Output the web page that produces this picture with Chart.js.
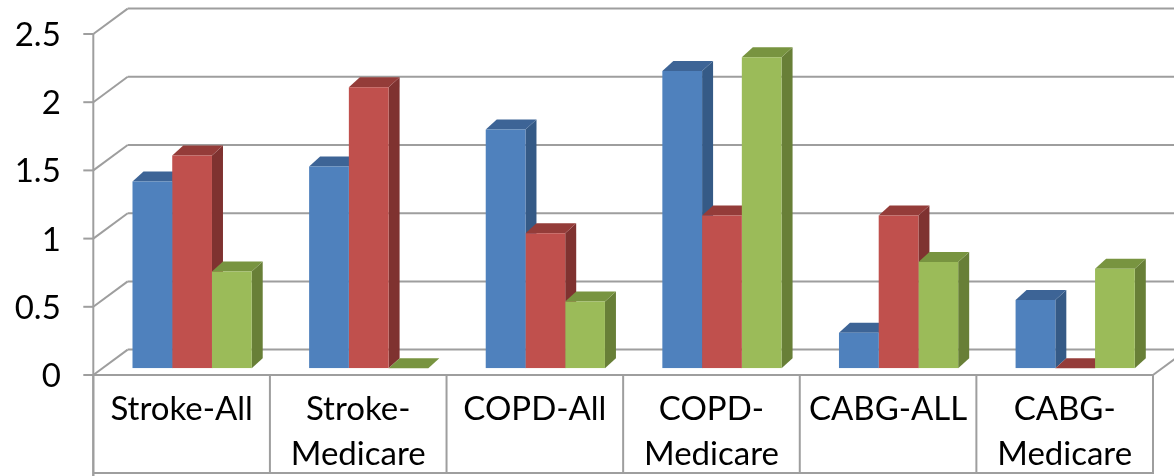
<!DOCTYPE html>
<html>
<head>
<meta charset="utf-8">
<script src="https://cdn.jsdelivr.net/npm/chart.js@4/dist/chart.umd.min.js"></script>
<style>
  html, body { margin: 0; padding: 0; background: #fff; }
  #wrap { width: 1174px; height: 476px; }
</style>
</head>
<body>
<div id="wrap"><canvas id="c" width="1174" height="476"></canvas></div>
<script>
// Categories (multi-line labels) and the three series
const categories = [
  ['Stroke-All'],
  ['Stroke-', 'Medicare'],
  ['COPD-All'],
  ['COPD-', 'Medicare'],
  ['CABG-ALL'],
  ['CABG-', 'Medicare']
];
const seriesBlue  = [1.37, 1.48, 1.75, 2.18, 0.26, 0.50];
const seriesRed   = [1.56, 2.06, 0.99, 1.12, 1.12, 0.00];
const seriesGreen = [0.71, 0.00, 0.49, 2.28, 0.78, 0.73];
const yMin = 0, yMax = 2.5, yStep = 0.5;

// Face colours for the 3D boxes: front, side, top
const faceColors = [
  { front: '#4F81BD', side: '#355A86', top: '#3D6496' },
  { front: '#C0504D', side: '#7F3230', top: '#943C39' },
  { front: '#9BBB59', side: '#687F37', top: '#789440' }
];

// Depth geometry (pixels): bars sit in a middle plane; the front plane is
// shifted down-left and the back wall up-right of it.
const FRONT = { dx: -10.5, dy: 6.7 };
const BACK  = { dx: 23.9,  dy: -18.7 };
const BAR_DEPTH = { dx: 11, dy: -10 };
const GRID_COLOR = '#9e9e9e';
const BOTTOM_Y = 473;

const walls3d = {
  id: 'walls3d',
  beforeDatasetsDraw(chart) {
    const { ctx, chartArea: a, scales: { x, y } } = chart;
    const fl = a.left + FRONT.dx, fr = a.right + FRONT.dx;
    const bl = a.left + BACK.dx,  br = a.right + BACK.dx;
    const f0 = y.getPixelForValue(0) + FRONT.dy;
    const b0 = y.getPixelForValue(0) + BACK.dy;

    ctx.save();
    ctx.strokeStyle = GRID_COLOR;
    ctx.lineWidth = 2;
    ctx.lineCap = 'butt';
    const line = (x1, y1, x2, y2) => {
      ctx.beginPath(); ctx.moveTo(x1, y1); ctx.lineTo(x2, y2); ctx.stroke();
    };

    // back wall gridlines, side-wall diagonals and tick marks
    y.ticks.forEach(t => {
      const p = y.getPixelForValue(t.value);
      const yf = p + FRONT.dy, yb = p + BACK.dy;
      line(bl, yb, br, yb);
      line(fl, yf, bl, yb);
      line(fl - 10, yf, fl, yf);
    });
    // front vertical axis, continuing down through the label table
    line(fl, y.getPixelForValue(yMax) + FRONT.dy, fl, chart.height);
    // floor front edge and right edge
    line(fl, f0, fr, f0);
    line(fr, f0, br, b0);

    // category label table
    const step = x.getPixelForTick(1) - x.getPixelForTick(0);
    for (let i = 0; i <= categories.length; i++) {
      const xx = x.getPixelForTick(0) - step / 2 + i * step + FRONT.dx;
      line(xx, f0, xx, i === 0 ? chart.height : BOTTOM_Y + 1);
    }
    line(fl, BOTTOM_Y, fr, BOTTOM_Y);

    // side and top faces of every bar; the fronts are drawn by Chart.js
    const n = chart.data.labels.length;
    for (let i = 0; i < n; i++) {
      chart.data.datasets.forEach((ds, d) => {
        const el = chart.getDatasetMeta(d).data[i];
        const { x: cx, y: top, base, width } = el.getProps(['x', 'y', 'base', 'width'], true);
        const l = cx - width / 2, r = cx + width / 2;
        const c = faceColors[d];
        ctx.fillStyle = c.side;
        ctx.beginPath();
        ctx.moveTo(r, top);
        ctx.lineTo(r + BAR_DEPTH.dx, top + BAR_DEPTH.dy);
        ctx.lineTo(r + BAR_DEPTH.dx, base + BAR_DEPTH.dy);
        ctx.lineTo(r, base);
        ctx.closePath();
        ctx.fill();
        ctx.fillStyle = c.top;
        ctx.beginPath();
        ctx.moveTo(l, top);
        ctx.lineTo(r, top);
        ctx.lineTo(r + BAR_DEPTH.dx, top + BAR_DEPTH.dy);
        ctx.lineTo(l + BAR_DEPTH.dx, top + BAR_DEPTH.dy);
        ctx.closePath();
        ctx.fill();
      });
    }
    ctx.restore();
  }
};

function draw() {
  Chart.defaults.font.family = 'Lato, "Open Sans", sans-serif';
  Chart.defaults.color = '#000';
  new Chart(document.getElementById('c'), {
    type: 'bar',
    data: {
      labels: categories,
      datasets: [
        { data: seriesBlue,  backgroundColor: faceColors[0].front },
        { data: seriesRed,   backgroundColor: faceColors[1].front },
        { data: seriesGreen, backgroundColor: faceColors[2].front }
      ]
    },
    options: {
      responsive: false,
      animation: false,
      devicePixelRatio: 1,
      layout: { padding: { left: 0, right: 10.5, top: 27.3, bottom: 0 } },
      plugins: { legend: { display: false }, tooltip: { enabled: false } },
      datasets: { bar: { barPercentage: 1, categoryPercentage: 0.675, borderWidth: 0 } },
      scales: {
        x: {
          grid: { display: false, drawTicks: true, tickLength: 16 },
          border: { display: false },
          ticks: {
            font: { size: 33, lineHeight: 1.36 },
            padding: 3,
            labelOffset: FRONT.dx,
            maxRotation: 0,
            autoSkip: false
          },
          afterFit: s => { s.height = 476 - 368.3; }
        },
        y: {
          min: yMin,
          max: yMax,
          grid: { display: false, drawTicks: true, tickLength: 40 },
          border: { display: false },
          ticks: {
            stepSize: yStep,
            font: { size: 33 },
            padding: 3,
            labelOffset: 8,
            callback: v => String(v)
          },
          afterFit: s => { s.width = 103.8; }
        }
      }
    },
    plugins: [walls3d]
  });
}

if (document.fonts && document.fonts.load) {
  document.fonts.load('33px Lato').then(draw, draw);
} else {
  draw();
}
</script>
</body>
</html>
